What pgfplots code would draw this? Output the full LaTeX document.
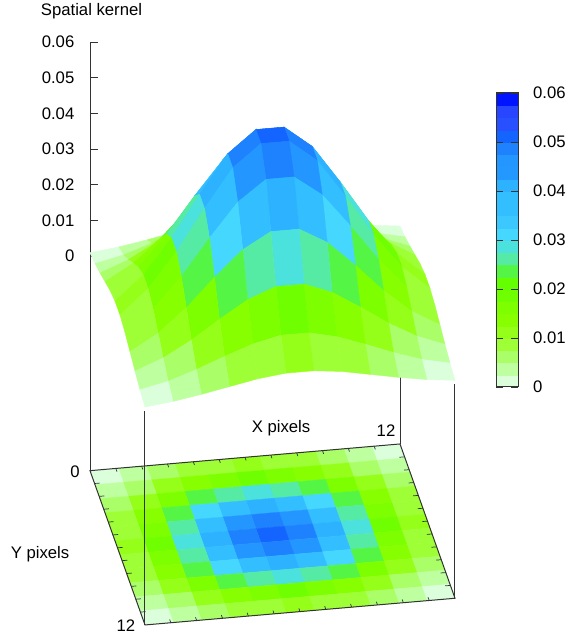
\documentclass[border=0pt]{standalone}
\usepackage{fontspec}
\setmainfont{Liberation Sans}
\usepackage{pgfplots}
\usepackage{pgfplotstable}
\pgfplotsset{compat=1.18}
\newcommand{\lab}{\fontsize{16.7}{19}\selectfont}
\pgfplotsset{
  colormap={kern}{
    rgb255=(218,255,218) rgb255=(190,255,160) rgb255=(170,255,105) rgb255=(158,255,55)
    rgb255=(150,255,25)  rgb255=(135,255,0)   rgb255=(125,255,0)   rgb255=(112,255,0)
    rgb255=(100,255,0)   rgb255=(85,245,70)   rgb255=(85,235,165)  rgb255=(75,225,220)
    rgb255=(70,215,255)  rgb255=(60,200,255)  rgb255=(50,190,255)  rgb255=(50,190,255)
    rgb255=(45,178,255)  rgb255=(35,152,255)  rgb255=(35,150,255)  rgb255=(30,130,255)
    rgb255=(20,100,255)  rgb255=(40,80,255)   rgb255=(40,70,255)   rgb255=(0,20,255)
  },
  colormap access=piecewise constant,
  every axis/.append style={font=\lab},
}
\pgfplotstableread{
x y z
12 0 .0010
10.9091 0 .0019
9.8182 0 .0032
8.7273 0 .0047
7.6364 0 .0062
6.5455 0 .0071
5.4545 0 .0071
4.3636 0 .0062
3.2727 0 .0047
2.1818 0 .0032
1.0909 0 .0019
0 0 .0010
12 1.0909 .0019
10.9091 1.0909 .0036
9.8182 1.0909 .0062
8.7273 1.0909 .0092
7.6364 1.0909 .0120
6.5455 1.0909 .0138
5.4545 1.0909 .0138
4.3636 1.0909 .0120
3.2727 1.0909 .0092
2.1818 1.0909 .0062
1.0909 1.0909 .0036
0 1.0909 .0019
12 2.1818 .0032
10.9091 2.1818 .0062
9.8182 2.1818 .0105
8.7273 2.1818 .0157
7.6364 2.1818 .0205
6.5455 2.1818 .0235
5.4545 2.1818 .0235
4.3636 2.1818 .0205
3.2727 2.1818 .0157
2.1818 2.1818 .0105
1.0909 2.1818 .0062
0 2.1818 .0032
12 3.2727 .0047
10.9091 3.2727 .0092
9.8182 3.2727 .0157
8.7273 3.2727 .0235
7.6364 3.2727 .0306
6.5455 3.2727 .0350
5.4545 3.2727 .0350
4.3636 3.2727 .0306
3.2727 3.2727 .0235
2.1818 3.2727 .0157
1.0909 3.2727 .0092
0 3.2727 .0047
12 4.3636 .0062
10.9091 4.3636 .0120
9.8182 4.3636 .0205
8.7273 4.3636 .0306
7.6364 4.3636 .0400
6.5455 4.3636 .0457
5.4545 4.3636 .0457
4.3636 4.3636 .0400
3.2727 4.3636 .0306
2.1818 4.3636 .0205
1.0909 4.3636 .0120
0 4.3636 .0062
12 5.4545 .0071
10.9091 5.4545 .0138
9.8182 5.4545 .0235
8.7273 5.4545 .0350
7.6364 5.4545 .0457
6.5455 5.4545 .0518
5.4545 5.4545 .0518
4.3636 5.4545 .0457
3.2727 5.4545 .0350
2.1818 5.4545 .0235
1.0909 5.4545 .0138
0 5.4545 .0071
12 6.5455 .0071
10.9091 6.5455 .0138
9.8182 6.5455 .0235
8.7273 6.5455 .0350
7.6364 6.5455 .0457
6.5455 6.5455 .0518
5.4545 6.5455 .0518
4.3636 6.5455 .0457
3.2727 6.5455 .0350
2.1818 6.5455 .0235
1.0909 6.5455 .0138
0 6.5455 .0071
12 7.6364 .0062
10.9091 7.6364 .0120
9.8182 7.6364 .0205
8.7273 7.6364 .0306
7.6364 7.6364 .0400
6.5455 7.6364 .0457
5.4545 7.6364 .0457
4.3636 7.6364 .0400
3.2727 7.6364 .0306
2.1818 7.6364 .0205
1.0909 7.6364 .0120
0 7.6364 .0062
12 8.7273 .0047
10.9091 8.7273 .0092
9.8182 8.7273 .0157
8.7273 8.7273 .0235
7.6364 8.7273 .0306
6.5455 8.7273 .0350
5.4545 8.7273 .0350
4.3636 8.7273 .0306
3.2727 8.7273 .0235
2.1818 8.7273 .0157
1.0909 8.7273 .0092
0 8.7273 .0047
12 9.8182 .0032
10.9091 9.8182 .0062
9.8182 9.8182 .0105
8.7273 9.8182 .0157
7.6364 9.8182 .0205
6.5455 9.8182 .0235
5.4545 9.8182 .0235
4.3636 9.8182 .0205
3.2727 9.8182 .0157
2.1818 9.8182 .0105
1.0909 9.8182 .0062
0 9.8182 .0032
12 10.9091 .0019
10.9091 10.9091 .0036
9.8182 10.9091 .0062
8.7273 10.9091 .0092
7.6364 10.9091 .0120
6.5455 10.9091 .0138
5.4545 10.9091 .0138
4.3636 10.9091 .0120
3.2727 10.9091 .0092
2.1818 10.9091 .0062
1.0909 10.9091 .0036
0 10.9091 .0019
12 12 .0010
10.9091 12 .0019
9.8182 12 .0032
8.7273 12 .0047
7.6364 12 .0062
6.5455 12 .0071
5.4545 12 .0071
4.3636 12 .0062
3.2727 12 .0047
2.1818 12 .0032
1.0909 12 .0019
0 12 .0010
}\kernel
\pgfplotstableread{
x y
0 0
1 0
0 .0025
1 .0025
0 .005
1 .005
0 .0075
1 .0075
0 .01
1 .01
0 .0125
1 .0125
0 .015
1 .015
0 .0175
1 .0175
0 .02
1 .02
0 .0225
1 .0225
0 .025
1 .025
0 .0275
1 .0275
0 .03
1 .03
0 .0325
1 .0325
0 .035
1 .035
0 .0375
1 .0375
0 .04
1 .04
0 .0425
1 .0425
0 .045
1 .045
0 .0475
1 .0475
0 .05
1 .05
0 .0525
1 .0525
0 .055
1 .055
0 .0575
1 .0575
0 .06
1 .06
}\cbar
\definecolor{axisgrey}{gray}{0.2}
\begin{document}
\begin{tikzpicture}[x=1pt,y=1pt]
\useasboundingbox (0,0) rectangle (567,637);
% z axis
\begin{axis}[
  at={(90pt,166.3pt)}, anchor=south west, scale only axis,
  width=1pt, height=428.7pt,
  xmin=0, xmax=1, ymin=-0.0601, ymax=0.06,
  axis x line=none, axis y line=left, axis line style={-,color=axisgrey,line width=1pt},
  scaled y ticks=false,
  ytick={0,0.01,0.02,0.03,0.04,0.05,0.06},
  yticklabels={0,0.01,0.02,0.03,0.04,0.05,0.06},
  tick align=inside, major tick length=8pt,
  tick style={color=axisgrey,line width=0.9pt},
  yticklabel style={anchor=east,inner sep=0pt,xshift=-15.5pt},
]
\end{axis}
% surface
\begin{axis}[
  at={(90pt,380.7pt)}, anchor=origin,
  x={(25.833pt,2.225pt)}, y={(4.583pt,-12.858pt)}, z={(0pt,3566.67pt)},
  xmin=0, xmax=12, ymin=0, ymax=12, zmin=-0.0601, zmax=0.06,
  hide axis, clip=false, point meta min=0, point meta max=0.06,
]
\addplot3[surf, shader=flat mean, z buffer=none, mesh/rows=12, point meta=\thisrow{z}]
  table[x=x,y=y,z expr=-0.0601]{\kernel};
\draw[axisgrey,line width=1pt] (axis cs:0,0,-0.0601) -- (axis cs:12,0,-0.0601) -- (axis cs:12,12,-0.0601) -- (axis cs:0,12,-0.0601) -- cycle;
\draw[axisgrey,line width=1pt] (axis cs:0,12,-0.0601) -- (axis cs:0,12,0);
\draw[axisgrey,line width=1pt] (axis cs:12,12,-0.0601) -- (axis cs:12,12,0);
\draw[axisgrey,line width=1pt] (axis cs:12,0,-0.0601) -- (axis cs:12,0,0);
\pgfplotsinvokeforeach{1,...,11}{
  \draw[axisgrey,line width=0.7pt] (axis cs:#1,0,-0.0601) -- (axis cs:#1,0.25,-0.0601);
  \draw[axisgrey,line width=0.7pt] (axis cs:#1,12,-0.0601) -- (axis cs:#1,11.75,-0.0601);
  \draw[axisgrey,line width=0.7pt] (axis cs:0,#1,-0.0601) -- (axis cs:0.2,#1,-0.0601);
  \draw[axisgrey,line width=0.7pt] (axis cs:12,#1,-0.0601) -- (axis cs:11.8,#1,-0.0601);
}
\addplot3[surf, shader=flat mean, z buffer=none, mesh/rows=12, point meta=\thisrow{z}]
  table[x=x,y=y,z=z]{\kernel};
\end{axis}
% colour bar
\begin{axis}[
  at={(496pt,250pt)}, anchor=south west, scale only axis,
  width=22pt, height=294pt,
  xmin=0, xmax=1, ymin=0, ymax=0.06,
  point meta min=0, point meta max=0.06,
  xtick=\empty, axis on top, scaled y ticks=false,
  axis line style={color=axisgrey,line width=1pt},
  ytick={0,0.01,0.02,0.03,0.04,0.05,0.06},
  yticklabels={0,0.01,0.02,0.03,0.04,0.05,0.06},
  ytick pos=both, yticklabel pos=right,
  tick align=inside, major tick length=7pt,
  tick style={color=black!80,line width=0.9pt},
  yticklabel style={anchor=west,inner sep=0pt,xshift=15pt},
]
\addplot[surf, shader=flat mean, mesh/cols=2, point meta=\thisrow{y}] table[x=x,y=y]{\cbar};
\end{axis}
\node[font=\lab] at (91.5,625.5) {Spatial kernel};
\node[font=\lab] at (281,209) {X pixels};
\node[font=\lab] at (40,83) {Y pixels};
\node[font=\lab] at (386,206) {12};
\node[font=\lab] at (75,165) {0};
\node[font=\lab] at (126,11) {12};
\end{tikzpicture}
\end{document}
